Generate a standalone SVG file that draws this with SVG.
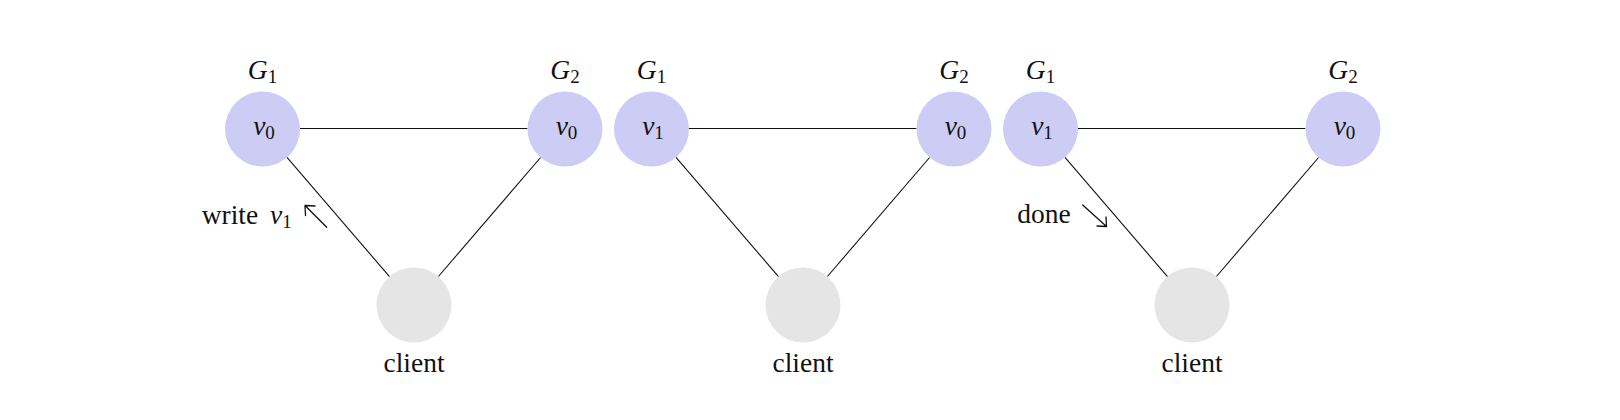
<svg xmlns="http://www.w3.org/2000/svg" width="1620" height="420" viewBox="0 0 1620 420">
<style>
.bg{fill:#ffffff}
.g{fill:#ccccf5}
.c{fill:#e5e5e5}
.edge{stroke:#111;stroke-width:1.1;fill:none}
.arr{stroke:#111;stroke-width:1.3;fill:none;stroke-linecap:round}
text{font-family:"Liberation Serif","DejaVu Serif",serif;font-size:27.5px;fill:#111}
.m{font-style:italic}
.sub{font-size:19px;font-style:normal}
.mid{text-anchor:middle}
</style>
<rect class="bg" x="0" y="0" width="1620" height="420"/>
<g id="connectors">
  <line class="edge" x1="300" y1="128.5" x2="527.5" y2="128.5"/>
  <line class="edge" x1="287" y1="157.4" x2="389.5" y2="276.6"/>
  <line class="edge" x1="540.6" y1="157.5" x2="438.4" y2="276.5"/>
  <line class="edge" x1="689" y1="128.5" x2="916.5" y2="128.5"/>
  <line class="edge" x1="676" y1="157.4" x2="778.5" y2="276.6"/>
  <line class="edge" x1="929.6" y1="157.5" x2="827.4" y2="276.5"/>
  <line class="edge" x1="1078" y1="128.5" x2="1305.5" y2="128.5"/>
  <line class="edge" x1="1065" y1="157.4" x2="1167.5" y2="276.6"/>
  <line class="edge" x1="1318.6" y1="157.5" x2="1216.4" y2="276.5"/>
</g>
<g id="p1-G1">
  <circle class="g" cx="262.5" cy="129" r="37.5"/>
  <text class="mid" x="262.5" y="78.5"><tspan class="m">G</tspan><tspan class="sub" dy="4">1</tspan></text>
  <text class="mid" x="264" y="135"><tspan class="m">v</tspan><tspan class="sub" dy="4">0</tspan></text>
</g>
<g id="p1-G2">
  <circle class="g" cx="565" cy="129" r="37.5"/>
  <text class="mid" x="565" y="78.5"><tspan class="m">G</tspan><tspan class="sub" dy="4">2</tspan></text>
  <text class="mid" x="566.5" y="135"><tspan class="m">v</tspan><tspan class="sub" dy="4">0</tspan></text>
</g>
<g id="p1-client">
  <circle class="c" cx="414" cy="305" r="37.5"/>
  <text class="mid" x="414" y="371.5">client</text>
</g>
<g id="p1-write">
  <text x="201.7" y="224">write</text>
  <text x="270" y="224"><tspan class="m">v</tspan><tspan class="sub" dy="4">1</tspan></text>
  <path class="arr" d="M326.7 227.3 L305 205.5 M305 205.5 L305.5 215.5 M305 205.5 L315 206"/>
</g>
<g id="p2-G1">
  <circle class="g" cx="651.5" cy="129" r="37.5"/>
  <text class="mid" x="651.5" y="78.5"><tspan class="m">G</tspan><tspan class="sub" dy="4">1</tspan></text>
  <text class="mid" x="653" y="135"><tspan class="m">v</tspan><tspan class="sub" dy="4">1</tspan></text>
</g>
<g id="p2-G2">
  <circle class="g" cx="954" cy="129" r="37.5"/>
  <text class="mid" x="954" y="78.5"><tspan class="m">G</tspan><tspan class="sub" dy="4">2</tspan></text>
  <text class="mid" x="955.5" y="135"><tspan class="m">v</tspan><tspan class="sub" dy="4">0</tspan></text>
</g>
<g id="p2-client">
  <circle class="c" cx="803" cy="305" r="37.5"/>
  <text class="mid" x="803" y="371.5">client</text>
</g>
<g id="p3-G1">
  <circle class="g" cx="1040.5" cy="129" r="37.5"/>
  <text class="mid" x="1040.5" y="78.5"><tspan class="m">G</tspan><tspan class="sub" dy="4">1</tspan></text>
  <text class="mid" x="1042" y="135"><tspan class="m">v</tspan><tspan class="sub" dy="4">1</tspan></text>
</g>
<g id="p3-G2">
  <circle class="g" cx="1343" cy="129" r="37.5"/>
  <text class="mid" x="1343" y="78.5"><tspan class="m">G</tspan><tspan class="sub" dy="4">2</tspan></text>
  <text class="mid" x="1344.5" y="135"><tspan class="m">v</tspan><tspan class="sub" dy="4">0</tspan></text>
</g>
<g id="p3-client">
  <circle class="c" cx="1192" cy="305" r="37.5"/>
  <text class="mid" x="1192" y="371.5">client</text>
</g>
<g id="p3-done">
  <text x="1017.3" y="223.3">done</text>
  <path class="arr" d="M1082.7 205 L1106.5 226.5 M1106.5 226.5 L1097 226 M1106.5 226.5 L1106 217"/>
</g>
</svg>
